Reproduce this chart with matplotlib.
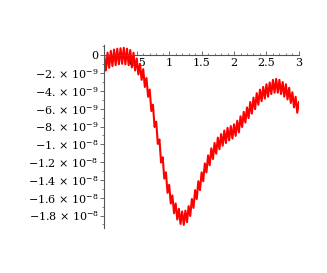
import matplotlib
matplotlib.use("Agg")
import matplotlib.pyplot as plt
import numpy as np
from matplotlib.ticker import MultipleLocator

# data (y in units of 1e-9)
x_start, x_stop = 0.0, 3.0
y_vals = [
    -0.1, -1.7, 0.3, -1.4, 0.5, -1.2, 0.65, -1.1, 0.75, -1.0,
    0.8, -0.95, 0.85, -1.0, 0.75, -1.1, 0.6, -1.35, 0.3, -1.7,
    -0.35, -2.15, -0.95, -2.75, -1.55, -3.55, -2.55, -4.65, -3.85, -6.25,
    -5.55, -8.05, -7.45, -9.95, -9.45, -12.05, -11.45, -13.85, -13.15, -15.45,
    -14.55, -16.65, -15.75, -17.75, -16.65, -18.45, -17.25, -18.95, -17.55, -19.05,
    -17.45, -18.75, -16.95, -18.05, -16.15, -17.15, -15.15, -16.15, -14.15, -15.15,
    -13.15, -14.15, -12.15, -13.15, -11.25, -12.35, -10.45, -11.65, -9.85, -11.05,
    -9.25, -10.55, -8.85, -10.15, -8.45, -9.85, -8.15, -9.55, -7.95, -9.35,
    -7.75, -9.05, -7.35, -8.65, -6.85, -8.05, -6.35, -7.55, -5.85, -7.05,
    -5.25, -6.55, -4.75, -6.05, -4.25, -5.55, -3.85, -5.15, -3.55, -4.85,
    -3.25, -4.65, -3.05, -4.35, -2.75, -4.2, -2.65, -4.2, -2.75, -4.35,
    -3.0, -4.65, -3.25, -4.95, -3.65, -5.35, -4.15, -5.85, -4.65, -6.45,
    -5.25,
]
x_vals = np.linspace(x_start, x_stop, len(y_vals))
y_vals = np.array(y_vals) * 1e-9

x_ticks = [0.5, 1, 1.5, 2, 2.5, 3]
x_labels = ["0.5", "1", "1.5", "2", "2.5", "3"]
y_ticks = [0, -2e-9, -4e-9, -6e-9, -8e-9, -1e-8, -1.2e-8, -1.4e-8, -1.6e-8, -1.8e-8]
y_labels = ["0", "−2. × 10$^{-9}$", "−4. × 10$^{-9}$", "−6. × 10$^{-9}$",
            "−8. × 10$^{-9}$", "−1. × 10$^{-8}$", "−1.2 × 10$^{-8}$",
            "−1.4 × 10$^{-8}$", "−1.6 × 10$^{-8}$", "−1.8 × 10$^{-8}$"]

plt.rcParams['font.family'] = ['DejaVu Serif']
plt.rcParams['mathtext.fontset'] = 'dejavuserif'

fig = plt.figure(figsize=(3.27, 2.73), dpi=100)
ax = fig.add_axes([0.319, 0.165, 0.595, 0.67])

ax.plot(x_vals, y_vals, color="red", linewidth=1.5)

ax.set_xlim(0, 3)
ax.set_ylim(-19.4e-9, 1.16e-9)

# Maple style axes through the origin
ax.spines['left'].set_position(('data', 0))
ax.spines['bottom'].set_position(('data', 0))
ax.spines['top'].set_visible(False)
ax.spines['right'].set_visible(False)
for s in ('left', 'bottom'):
    ax.spines[s].set_color('#555555')
    ax.spines[s].set_linewidth(0.8)

ax.set_xticks(x_ticks)
ax.set_xticklabels(x_labels)
ax.set_yticks(y_ticks)
ax.set_yticklabels(y_labels)
ax.xaxis.set_minor_locator(MultipleLocator(0.1))
ax.yaxis.set_minor_locator(MultipleLocator(1e-9))

ax.tick_params(axis='x', direction='in', length=3, width=0.6, color='#555555',
               labelsize=8, pad=2)
ax.tick_params(axis='x', which='minor', direction='in', length=1.5, width=0.5, color='#555555')
ax.tick_params(axis='y', direction='out', length=3, width=0.6, color='#555555',
               labelsize=8, pad=1)
ax.tick_params(axis='y', which='minor', direction='out', length=1.5, width=0.5, color='#555555')

fig.savefig("out.png", dpi=100)
plt.close(fig)
